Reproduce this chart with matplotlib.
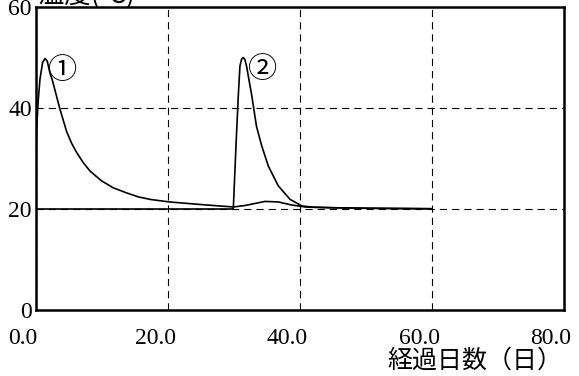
import matplotlib.pyplot as plt
from matplotlib.transforms import ScaledTranslation

days_1 = [0, 0.1, 0.35, 0.6, 1.0, 1.36, 1.7, 2.1, 2.5, 2.9, 3.6, 4.65, 5.4, 6.2, 7.2, 8.2,
          9.9, 11.7, 13.7, 15.5, 17.3, 20.2, 24.8, 29.9, 31.7, 34.7, 36.7, 38.7,
          40.8, 42.0, 45.0, 50.0, 55.0, 60.0]
temp_1 = [29.0, 36.0, 41.7, 45.7, 49.0, 49.8, 49.3, 47.0, 45.4, 43.4, 39.9, 35.3, 33.0,
          31.1, 29.1, 27.5, 25.6, 24.2, 23.2, 22.4, 21.9, 21.4, 20.9, 20.4, 20.7, 21.5,
          21.4, 20.8, 20.4, 20.35, 20.25, 20.15, 20.1, 20.05]

days_2 = [0, 29.8, 29.9, 30.3, 30.65, 30.9, 31.15, 31.4, 31.65, 31.9, 32.7, 33.4, 34.2,
          35.2, 36.7, 38.5, 40.3, 42.0, 45.0, 50.0, 55.0, 60.0]
temp_2 = [20.0, 20.0, 20.2, 32.5, 42.4, 48.3, 49.7, 50.0, 49.6, 48.3, 42.4, 36.4, 32.5,
          28.5, 24.6, 21.9, 20.6, 20.35, 20.25, 20.15, 20.1, 20.05]

x_ticks = [0, 20, 40, 60, 80]
x_labels = ['0.0', '20.0', '40.0', '60.0', '80.0']
y_ticks = [0, 20, 40, 60]

cjk = ['Noto Sans CJK JP', 'DejaVu Sans']
num_font = 'Liberation Serif'

fig = plt.figure(figsize=(5.79, 3.76), dpi=100)
ax = fig.add_axes([36 / 579, 66 / 376, 528 / 579, 303 / 376])

ax.plot(days_1, temp_1, color='black', linewidth=1.2, zorder=3)
ax.plot(days_2, temp_2, color='black', linewidth=1.2, zorder=3)

ax.text(4.1, 47.3, '①', family=cjk, fontsize=21, ha='center', va='center')
ax.text(34.4, 47.6, '②', family=cjk, fontsize=21, ha='center', va='center')

ax.set_xlim(0, 80)
ax.set_ylim(0, 60)
ax.set_xticks(x_ticks)
ax.set_xticklabels(x_labels, family=num_font, fontsize=17)
ax.set_yticks(y_ticks)
ax.set_yticklabels([str(v) for v in y_ticks], family=num_font, fontsize=17)
ax.tick_params(axis='x', length=0, pad=13)
ax.tick_params(axis='y', length=0, pad=3)

# labels sit a bit left of their gridlines in the original
shift = ScaledTranslation(-13 / 100, 0, fig.dpi_scale_trans)
for lab in ax.get_xticklabels():
    lab.set_transform(lab.get_transform() + shift)

ax.grid(True, color='black', linewidth=0.8, linestyle=(0, (6.5, 4.5)))
for s in ax.spines.values():
    s.set_linewidth(1.8)

fig.text(562 / 579, 1 - 361 / 376, '経過日数（日）', family=cjk, fontsize=18,
         ha='right', va='center')
fig.text(38 / 579, 1 + 5 / 376, '温度(℃)', family=cjk, fontsize=19,
         ha='left', va='center')

fig.savefig('out.png', dpi=100)
